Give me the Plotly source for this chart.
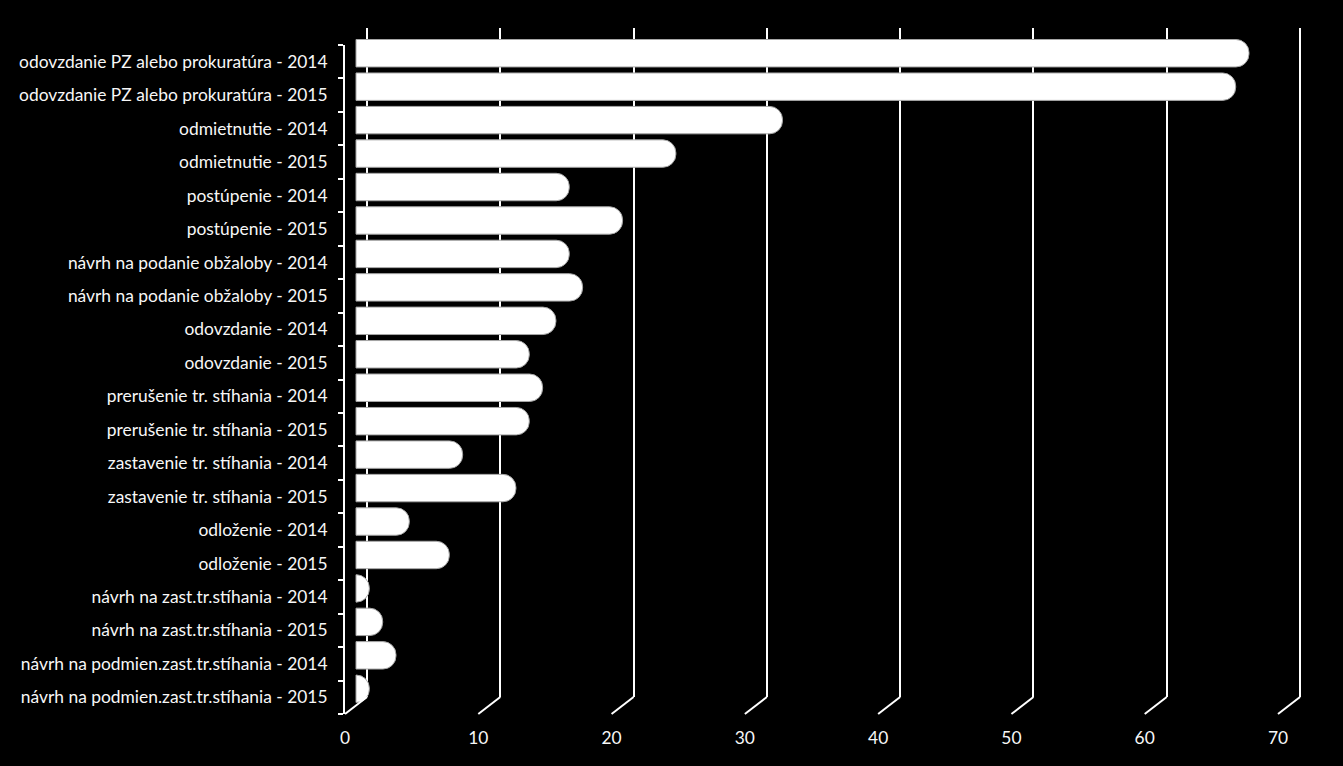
import plotly.graph_objects as go

# ---------------- data ----------------
categories = [
    "odovzdanie PZ alebo prokuratúra - 2014",
    "odovzdanie PZ alebo prokuratúra - 2015",
    "odmietnutie - 2014",
    "odmietnutie - 2015",
    "postúpenie - 2014",
    "postúpenie - 2015",
    "návrh na podanie obžaloby - 2014",
    "návrh na podanie obžaloby - 2015",
    "odovzdanie - 2014",
    "odovzdanie - 2015",
    "prerušenie tr. stíhania - 2014",
    "prerušenie tr. stíhania - 2015",
    "zastavenie tr. stíhania - 2014",
    "zastavenie tr. stíhania - 2015",
    "odloženie - 2014",
    "odloženie - 2015",
    "návrh na zast.tr.stíhania - 2014",
    "návrh na zast.tr.stíhania - 2015",
    "návrh na podmien.zast.tr.stíhania - 2014",
    "návrh na podmien.zast.tr.stíhania - 2015",
]
values = [67, 66, 32, 24, 16, 20, 16, 17, 15, 13, 14, 13, 8, 12, 4, 7, 1, 2, 3, 1]
x_ticks = [0, 10, 20, 30, 40, 50, 60, 70]

# ---------------- layout geometry (pixels) ----------------
W, H = 1343, 766
L, R = 345, 1310          # plot area left / right
T, B = 28, 714            # plot area top / bottom
FRONT_TOP = 45            # top of front plane
DX, DY = 22, 17           # 3-D depth offset (back wall)
S = (1278 - 345) / 70     # px per unit
pw, ph = R - L, B - T
n = len(categories)

FONT = "Lato"
TXT = "#f7f7f7"
FS = 17.4


def xr(shift):
    return [-shift / S, (pw - shift) / S]


def yd(shift):
    return [shift / ph, min(1.0, (B - FRONT_TOP + shift) / ph)]


fig = go.Figure()

# empty trace so that the back-wall subplot is rendered
fig.add_trace(go.Scatter(x=[], y=[], xaxis="x", yaxis="y", hoverinfo="skip"))

fig.add_trace(go.Bar(
    y=list(range(n)), x=values, orientation="h",
    xaxis="x2", yaxis="y2",
    width=0.82,
    marker=dict(color="white", line=dict(color="#a6a6a6", width=1), cornerradius=13),
    hoverinfo="skip",
))

shapes = []
for v in x_ticks:
    shapes.append(dict(
        type="line", xref="x3", xsizemode="pixel", xanchor=v, x0=0, x1=DX,
        yref="paper", ysizemode="pixel", yanchor=0, y0=0, y1=DY,
        line=dict(color="white", width=2),
    ))

fig.update_layout(
    width=W, height=H, autosize=False,
    paper_bgcolor="black", plot_bgcolor="rgba(0,0,0,0)",
    margin=dict(l=L, r=W - R, t=T, b=H - B, pad=0),
    showlegend=False,
    font=dict(family=FONT, color=TXT, size=FS),
    # back wall gridlines
    xaxis=dict(domain=[0, 1], anchor="y", range=xr(DX), tickvals=x_ticks,
               showgrid=True, gridcolor="white", gridwidth=2, zeroline=False,
               showticklabels=False, ticks="", showline=False, automargin=False),
    yaxis=dict(domain=[DY / ph, 1], anchor="x", range=[0, 1],
               showgrid=False, zeroline=False, showline=False,
               showticklabels=False, ticks=""),
    # bars (mid-depth)
    xaxis2=dict(domain=[0, 1], anchor="y2", range=xr(DX / 2), visible=False,
                showgrid=False, zeroline=False),
    yaxis2=dict(domain=yd(DY / 2), anchor="x2", range=[n - 0.5, -0.5], visible=False,
                showgrid=False, zeroline=False),
    # front axes with labels
    xaxis3=dict(domain=[0, 1], anchor="y3", range=xr(0), tickvals=x_ticks,
                showgrid=False, zeroline=False, showline=False, ticks="",
                ticklabelstandoff=12, automargin=False,
                tickfont=dict(family=FONT, color=TXT, size=FS)),
    yaxis3=dict(domain=yd(0), anchor="x3", range=[n - 0.5, -0.5],
                tickvals=list(range(n)), ticktext=categories,
                showgrid=False, zeroline=False, showline=True, linecolor="white", linewidth=2,
                ticks="", ticklabelstandoff=12, automargin=False,
                minor=dict(tickvals=[i - 0.5 for i in range(n + 1)], ticks="outside",
                           ticklen=5, tickcolor="white", tickwidth=2, showgrid=False),
                tickfont=dict(family=FONT, color=TXT, size=FS)),
    shapes=shapes,
)

fig.write_html("out.html")
